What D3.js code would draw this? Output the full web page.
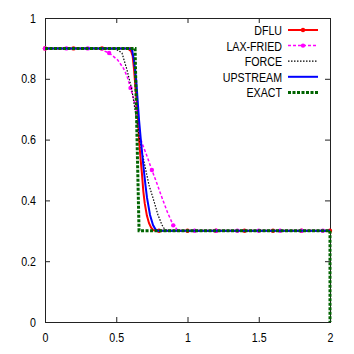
<!DOCTYPE html>
<meta charset="utf-8">
<head>
  <script src="https://d3js.org/d3.v7.min.js"></script>
  <style>
    body { margin: 0; background: #fff; font-family: 'Liberation Sans', Arial, sans-serif; }
  </style>
</head>
<div id="my_dataviz"></div>
<script>
  // values
  var dfluX = [0, 0.2, 0.4, 0.58, 0.6, 0.615, 0.625, 0.635, 0.645, 0.653, 0.66, 0.67, 0.68, 0.69, 0.7, 0.715, 0.73, 0.745, 0.76, 0.78, 0.8, 1.0, 1.2, 1.4, 1.6, 1.8, 2.0];
  var dfluY = [0.9, 0.9, 0.9, 0.9, 0.897, 0.875, 0.83, 0.77, 0.72, 0.665, 0.6, 0.54, 0.49, 0.43, 0.39, 0.35, 0.325, 0.31, 0.302, 0.3, 0.3, 0.3, 0.3, 0.3, 0.3, 0.3, 0.3];
  var dfluMarkX = [0, 0.2, 0.4, 0.6, 0.8, 1.0, 1.2, 1.4, 1.6, 1.8, 2.0];
  var dfluMarkY = [0.9, 0.9, 0.9, 0.897, 0.3, 0.3, 0.3, 0.3, 0.3, 0.3, 0.3];

  var laxX = [0, 0.15, 0.3, 0.38, 0.45, 0.51, 0.55, 0.575, 0.6, 0.625, 0.639, 0.653, 0.68, 0.72, 0.75, 0.79, 0.82, 0.86, 0.9, 0.93, 0.95, 1.05, 1.2, 1.35, 1.5, 1.65, 1.8, 1.95, 2.0];
  var laxY = [0.9, 0.9, 0.9, 0.898, 0.885, 0.862, 0.835, 0.81, 0.77, 0.73, 0.697, 0.632, 0.59, 0.54, 0.5, 0.45, 0.41, 0.36, 0.318, 0.303, 0.3, 0.3, 0.3, 0.3, 0.3, 0.3, 0.3, 0.3, 0.3];
  var laxMarkX = [0, 0.15, 0.3, 0.45, 0.6, 0.75, 0.9, 1.05, 1.2, 1.35, 1.5, 1.65, 1.8, 1.95];
  var laxMarkY = [0.9, 0.9, 0.9, 0.885, 0.77, 0.5, 0.318, 0.3, 0.3, 0.3, 0.3, 0.3, 0.3, 0.3];

  var forceX = [0, 0.45, 0.5, 0.54, 0.575, 0.61, 0.632, 0.667, 0.7, 0.73, 0.758, 0.793, 0.821, 0.84, 0.86, 2.0];
  var forceY = [0.9, 0.9, 0.897, 0.885, 0.83, 0.763, 0.697, 0.592, 0.516, 0.45, 0.408, 0.352, 0.319, 0.305, 0.3, 0.3];

  var upX = [0, 0.59, 0.61, 0.625, 0.64, 0.65, 0.66, 0.674, 0.69, 0.705, 0.716, 0.737, 0.758, 0.775, 0.79, 2.0];
  var upY = [0.9, 0.9, 0.897, 0.86, 0.795, 0.73, 0.664, 0.592, 0.516, 0.45, 0.408, 0.352, 0.319, 0.305, 0.3, 0.3];

  var exactX = [0, 0.632, 0.66, 2.0, 2.0];
  var exactY = [0.9, 0.9, 0.3, 0.3, 0];

  var xTicks = [0, 0.5, 1, 1.5, 2];
  var yTicks = [0, 0.2, 0.4, 0.6, 0.8, 1];

  var margin = { top: 18, right: 24, bottom: 32, left: 45 },
    width = 354 - margin.left - margin.right,
    height = 354 - margin.top - margin.bottom;

  // narrow look of the original font: Arial metrics squeezed to 82%
  var squeeze = "scale(0.82,1)";

  var svg = d3.select("#my_dataviz")
    .append("svg")
    .attr("width", 354)
    .attr("height", 354)
    .append("g")
    .attr("transform", "translate(" + margin.left + "," + margin.top + ")");

  var x = d3.scaleLinear().domain([0, 2]).range([0, width]);
  var y = d3.scaleLinear().domain([0, 1]).range([height, 0]);

  // axes, ticks pointing inwards and mirrored like gnuplot
  function styleAxis(g) {
    g.select(".domain").remove();
    g.selectAll("line").attr("stroke", "#222");
    g.selectAll("text")
      .attr("fill", "#000")
      .style("font-family", "'Liberation Sans', Arial, sans-serif")
      .style("font-size", "13px");
  }
  svg.append("g")
    .attr("transform", "translate(0," + height + ")")
    .call(d3.axisBottom(x).tickValues(xTicks).tickSize(-5).tickPadding(11).tickFormat(d3.format("")))
    .call(styleAxis)
    .selectAll("text").attr("transform", squeeze);
  svg.append("g")
    .call(d3.axisTop(x).tickValues(xTicks).tickSize(-5).tickFormat(""))
    .call(styleAxis);
  svg.append("g")
    .call(d3.axisLeft(y).tickValues(yTicks).tickSize(-5).tickPadding(9).tickFormat(d3.format("")))
    .call(styleAxis)
    .selectAll("text").attr("x", -9 / 0.82).attr("transform", squeeze);
  svg.append("g")
    .attr("transform", "translate(" + width + ",0)")
    .call(d3.axisRight(y).tickValues(yTicks).tickSize(-5).tickFormat(""))
    .call(styleAxis);

  svg.append("rect")
    .attr("x", 0.5).attr("y", 0.5)
    .attr("width", width).attr("height", height)
    .attr("fill", "none")
    .attr("stroke", "#222")
    .attr("stroke-width", 1);

  var series = [
    { name: "DFLU", xs: dfluX, ys: dfluY, mx: dfluMarkX, my: dfluMarkY, color: "#ff0000", w: 2, dash: null },
    { name: "LAX-FRIED", xs: laxX, ys: laxY, mx: laxMarkX, my: laxMarkY, color: "#ff00ff", w: 1.5, dash: "3,2" },
    { name: "FORCE", xs: forceX, ys: forceY, mx: null, my: null, color: "#000000", w: 1.2, dash: "1.5,1.5" },
    { name: "UPSTREAM", xs: upX, ys: upY, mx: null, my: null, color: "#0000ff", w: 2, dash: null },
    { name: "EXACT", xs: exactX, ys: exactY, mx: null, my: null, color: "#006400", w: 3, dash: "3,1.5" }
  ];

  var line = d3.line()
    .x(function (d) { return x(d[0]); })
    .y(function (d) { return y(d[1]); });

  series.forEach(function (s) {
    var pts = s.xs.map(function (v, i) { return [v, s.ys[i]]; });
    svg.append("path")
      .datum(pts)
      .attr("fill", "none")
      .attr("stroke", s.color)
      .attr("stroke-width", s.w)
      .attr("stroke-dasharray", s.dash)
      .attr("d", line);
    if (s.mx) {
      svg.selectAll(null)
        .data(s.mx.map(function (v, i) { return [v, s.my[i]]; }))
        .enter()
        .append("circle")
        .attr("cx", function (d) { return x(d[0]); })
        .attr("cy", function (d) { return y(d[1]); })
        .attr("r", 2.2)
        .attr("fill", s.color);
    }
  });

  // legend
  var legend = svg.append("g")
    .attr("transform", "translate(" + (282 - margin.left) + "," + (30 - margin.top) + ")");
  series.forEach(function (s, i) {
    var row = legend.append("g").attr("transform", "translate(0," + (i * 15.6) + ")");
    row.append("text")
      .attr("x", 0)
      .attr("y", 5)
      .attr("text-anchor", "end")
      .attr("transform", squeeze)
      .style("font-size", "13px")
      .text(s.name);
    row.append("line")
      .attr("x1", 6).attr("x2", 36)
      .attr("y1", 0).attr("y2", 0)
      .attr("stroke", s.color)
      .attr("stroke-width", s.w)
      .attr("stroke-dasharray", s.dash);
    if (s.mx) {
      row.append("circle")
        .attr("cx", 21).attr("cy", 0)
        .attr("r", 2.2)
        .attr("fill", s.color);
    }
  });
</script>
